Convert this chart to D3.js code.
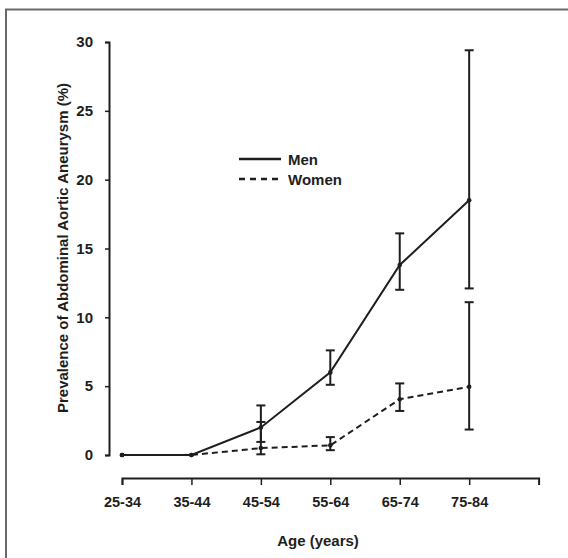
<!DOCTYPE html>
<html>
<head>
<meta charset="utf-8">
<script src="https://cdn.jsdelivr.net/npm/d3@7"></script>
<style>
    body { margin: 0; background: #fff; }
    svg { display: block; font-family: "Liberation Sans", Arial, sans-serif; }
</style>
</head>
<body>
<svg id="drawing_region"></svg>
<script>
const ageGroups = ['25-34', '35-44', '45-54', '55-64', '65-74', '75-84'];
const yTicks = [0, 5, 10, 15, 20, 25, 30];

const men      = [0, 0, 2.0, 6.0, 13.8, 18.5];
const menLow   = [null, null, 0.95, 5.1, 12.0, 12.1];
const menHigh  = [null, null, 3.6, 7.6, 16.1, 29.4];

const women     = [0, 0, 0.5, 0.7, 4.05, 4.95];
const womenLow  = [null, null, 0.05, 0.35, 3.2, 1.85];
const womenHigh = [null, null, 2.4, 1.3, 5.2, 11.1];

const config = {
    width: 568,
    height: 558,
    xLeft: 122, xRight: 538.6,
    yTop: 42, yBottom: 455,
    xAxisY: 478,
    yAxisX: 109
};

const ink = '#1e1e1e';

const svg = d3.select('#drawing_region')
    .attr('width', config.width)
    .attr('height', config.height);

// frame
svg.append('rect')
    .attr('x', 6).attr('y', 9.5)
    .attr('width', 600).attr('height', 600)
    .attr('fill', 'none')
    .attr('stroke', '#6a6a6a')
    .attr('stroke-width', 2);

const xscale = d3.scaleLinear()
    .domain([0, ageGroups.length])
    .range([config.xLeft, config.xRight]);

const yscale = d3.scaleLinear()
    .domain([0, 30])
    .range([config.yBottom, config.yTop]);

// axes
const xaxis = d3.axisBottom(xscale)
    .tickValues(d3.range(ageGroups.length))
    .tickFormat(i => ageGroups[i])
    .tickSize(7)
    .tickSizeOuter(7)
    .tickPadding(12);

const yaxis = d3.axisLeft(yscale)
    .tickValues(yTicks)
    .tickSize(4)
    .tickSizeOuter(4)
    .tickPadding(12);

const xaxis_group = svg.append('g')
    .attr('transform', `translate(0, ${config.xAxisY})`)
    .call(xaxis);

const yaxis_group = svg.append('g')
    .attr('transform', `translate(${config.yAxisX}, 0)`)
    .call(yaxis);

[xaxis_group, yaxis_group].forEach(g => {
    g.select('.domain').attr('stroke', ink).attr('stroke-width', 2);
    g.selectAll('.tick line').attr('stroke', ink).attr('stroke-width', 1.5);
    g.selectAll('.tick text')
        .attr('fill', ink)
        .attr('font-weight', 'bold');
});
xaxis_group.selectAll('.tick text').attr('font-size', '14.5px');
yaxis_group.selectAll('.tick text').attr('font-size', '15px');

// axis labels
svg.append('text')
    .attr('x', 318)
    .attr('y', 546)
    .attr('text-anchor', 'middle')
    .attr('font-size', '15px')
    .attr('font-weight', 'bold')
    .attr('fill', ink)
    .text('Age (years)');

svg.append('text')
    .attr('transform', 'translate(68, 248) rotate(-90)')
    .attr('text-anchor', 'middle')
    .attr('font-size', '15px')
    .attr('font-weight', 'bold')
    .attr('fill', ink)
    .text('Prevalence of Abdominal Aortic Aneurysm (%)');

// series
const series = [
    { name: 'Men',   values: men,   low: menLow,   high: menHigh,   dash: null },
    { name: 'Women', values: women, low: womenLow, high: womenHigh, dash: '6,4' }
];

const line = d3.line()
    .x((d, i) => xscale(i))
    .y(d => yscale(d));

const chart = svg.append('g');

series.forEach(s => {
    chart.append('path')
        .datum(s.values)
        .attr('d', line)
        .attr('fill', 'none')
        .attr('stroke', ink)
        .attr('stroke-width', 2)
        .attr('stroke-dasharray', s.dash);

    const bars = s.values.map((v, i) => ({ i: i, lo: s.low[i], hi: s.high[i] }))
        .filter(d => d.lo !== null);

    const eb = chart.append('g')
        .attr('stroke', ink)
        .attr('stroke-width', 2);

    eb.selectAll('.stem').data(bars).enter()
        .append('line')
        .attr('x1', d => xscale(d.i)).attr('x2', d => xscale(d.i))
        .attr('y1', d => yscale(d.lo)).attr('y2', d => yscale(d.hi));

    eb.selectAll('.cap').data(bars.flatMap(d => [{ i: d.i, v: d.lo }, { i: d.i, v: d.hi }])).enter()
        .append('line')
        .attr('x1', d => xscale(d.i) - 4.5).attr('x2', d => xscale(d.i) + 4.5)
        .attr('y1', d => yscale(d.v)).attr('y2', d => yscale(d.v));

    chart.append('g').selectAll('circle').data(s.values).enter()
        .append('circle')
        .attr('cx', (d, i) => xscale(i))
        .attr('cy', d => yscale(d))
        .attr('r', 2.3)
        .attr('fill', ink);
});

// legend
const legend = svg.append('g').attr('transform', 'translate(239, 159)');
series.forEach((s, k) => {
    legend.append('line')
        .attr('x1', 0).attr('x2', 42)
        .attr('y1', k * 20).attr('y2', k * 20)
        .attr('stroke', ink)
        .attr('stroke-width', 2.5)
        .attr('stroke-dasharray', s.dash ? '6,5' : null);
    legend.append('text')
        .attr('x', 49)
        .attr('y', k * 20 + 5.5)
        .attr('font-size', '15px')
        .attr('font-weight', 'bold')
        .attr('fill', ink)
        .text(s.name);
});
</script>
</body>
</html>
